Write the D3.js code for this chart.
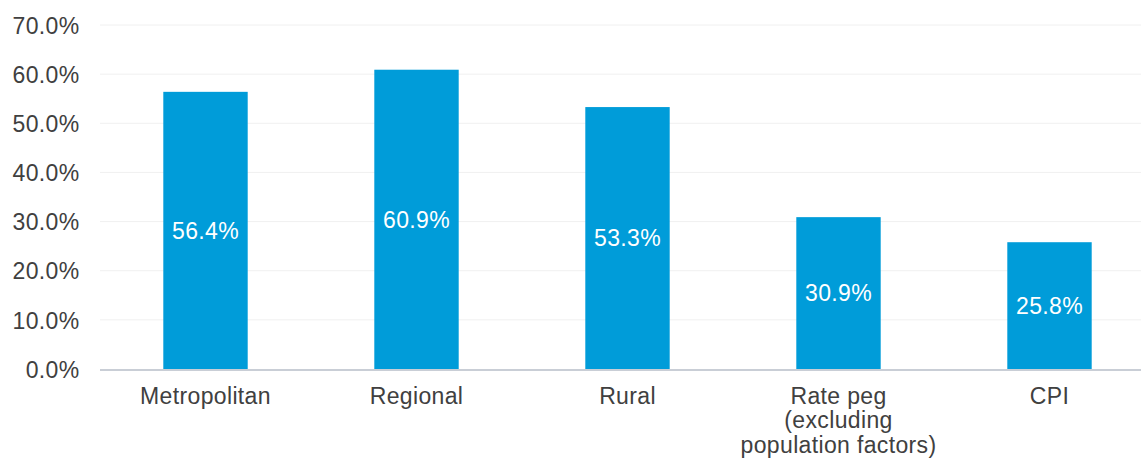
<!DOCTYPE html>
<html>
<head>
<meta charset="utf-8">
<script src="https://cdn.jsdelivr.net/npm/d3@7"></script>
<style>
  html, body { margin: 0; padding: 0; background: #ffffff; }
  svg { display: block; }
  text { font-family: "Liberation Sans", Arial, sans-serif; }
</style>
</head>
<body>
<svg id="chart" width="1141" height="463"></svg>
<script>
// Categories (multi-line labels split on "\n") and their growth values in percent
const categories = ["Metropolitan", "Regional", "Rural", "Rate peg\n(excluding\npopulation factors)", "CPI"];
const values = [56.4, 60.9, 53.3, 30.9, 25.8];
const yTicks = [0, 10, 20, 30, 40, 50, 60, 70];

const svg = d3.select("#chart");
const plotLeft = 100, plotRight = 1155, plotTop = 25, plotBottom = 369;
const fontSize = "23px", spacing = "0.35px";

const x = d3.scaleBand()
  .domain(categories)
  .range([plotLeft, plotRight])
  .paddingInner(0.6)
  .paddingOuter(0.3);

const y = d3.scaleLinear()
  .domain([0, 70])
  .range([plotBottom, plotTop]);

// Horizontal gridlines
svg.append("g")
  .selectAll("line")
  .data(yTicks.filter(d => d > 0))
  .join("line")
  .attr("x1", plotLeft)
  .attr("x2", 1141)
  .attr("y1", d => y(d))
  .attr("y2", d => y(d))
  .attr("stroke", "#f0f0f0")
  .attr("stroke-width", 1);

// Y axis tick labels
const yAxis = d3.axisLeft(y)
  .tickValues(yTicks)
  .tickFormat(d => d.toFixed(1) + "%")
  .tickSize(0)
  .tickPadding(0);

const gy = svg.append("g")
  .attr("transform", "translate(79.5,0)")
  .call(yAxis);
gy.select(".domain").remove();
gy.selectAll("text")
  .attr("fill", "#404040")
  .style("font-size", fontSize)
  .style("letter-spacing", spacing)
  .attr("dy", "0.36em");

// Bars
svg.append("g")
  .selectAll("rect")
  .data(values)
  .join("rect")
  .attr("x", (d, i) => x(categories[i]))
  .attr("width", x.bandwidth())
  .attr("y", d => y(d))
  .attr("height", d => y(0) - y(d))
  .attr("fill", "#009cd9");

// Value labels centred inside each bar
svg.append("g")
  .selectAll("text")
  .data(values)
  .join("text")
  .attr("x", (d, i) => x(categories[i]) + x.bandwidth() / 2)
  .attr("y", d => (y(d) + y(0)) / 2)
  .attr("dy", "0.36em")
  .attr("text-anchor", "middle")
  .attr("fill", "#ffffff")
  .style("font-size", fontSize)
  .style("letter-spacing", spacing)
  .text(d => d.toFixed(1) + "%");

// Baseline
svg.append("line")
  .attr("x1", plotLeft)
  .attr("x2", 1141)
  .attr("y1", y(0) + 1)
  .attr("y2", y(0) + 1)
  .attr("stroke", "#c9ced6")
  .attr("stroke-width", 2);

// Category labels
const xAxis = d3.axisBottom(x).tickSize(0).tickPadding(0).tickFormat("");
const gx = svg.append("g")
  .attr("transform", `translate(0,${plotBottom})`)
  .call(xAxis);
gx.select(".domain").remove();
gx.selectAll(".tick")
  .append("text")
  .attr("fill", "#404040")
  .attr("text-anchor", "middle")
  .style("font-size", fontSize)
  .style("letter-spacing", spacing)
  .each(function(d) {
    const lines = d.split("\n");
    d3.select(this).selectAll("tspan")
      .data(lines)
      .join("tspan")
      .attr("x", 0)
      .attr("y", (l, i) => 35 + i * 24.3)
      .text(l => l);
  });
</script>
</body>
</html>
